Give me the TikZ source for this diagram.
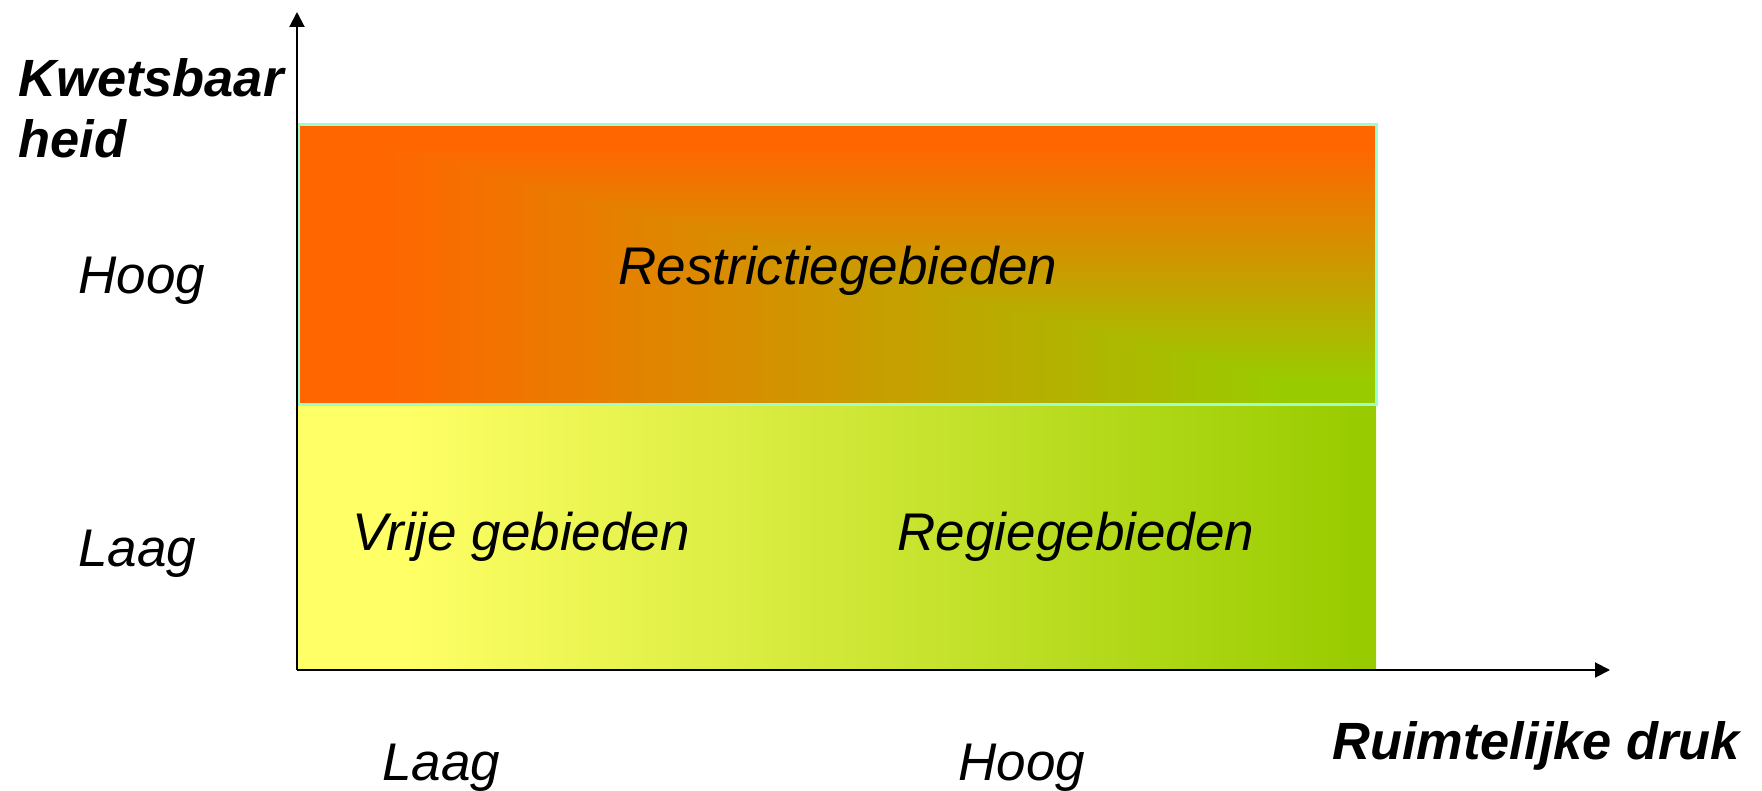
\documentclass[tikz,border=0pt]{standalone}
\usepackage{fontspec}
\setmainfont{Liberation Sans}
\usetikzlibrary{positioning,calc,arrows.meta}

\definecolor{hotorange}{HTML}{FF6600}
\definecolor{limegreen}{HTML}{99CC00}
\definecolor{paleyellow}{HTML}{FFFF66}
\definecolor{aqualine}{HTML}{99FFCC}

% gradients with a short flat part at both ends
\pgfdeclarehorizontalshading{riskh}{100bp}{color(0bp)=(hotorange); color(29bp)=(hotorange);
  color(71bp)=(limegreen); color(100bp)=(limegreen)}
\pgfdeclareverticalshading{riskv}{100bp}{color(0bp)=(limegreen); color(29bp)=(limegreen);
  color(71bp)=(hotorange); color(100bp)=(hotorange)}
\pgfdeclarehorizontalshading{freeh}{100bp}{color(0bp)=(paleyellow); color(30bp)=(paleyellow);
  color(74bp)=(limegreen); color(100bp)=(limegreen)}

\tikzset{
  lbl/.style={inner sep=0pt, font=\fontsize{26.5}{30.5}\selectfont\itshape},
  axislbl/.style={inner sep=0pt, font=\fontsize{26.2}{30.5}\selectfont\bfseries\itshape},
  axis/.style={line width=1pt, -{Triangle[length=7.5pt,width=7.5pt]}}
}

\begin{document}
\begin{tikzpicture}[x=0.5pt, y=-0.5pt]

  % geometry (image pixels, y downwards)
  \def\xl{297}   % y-axis
  \def\xr{1376}  % right edge of the fields
  \def\yt{125}   % top of upper field
  \def\ym{404}   % split between the fields
  \def\yb{670}   % x-axis

  \useasboundingbox (0,0) rectangle (1762,791);

  % upper field: gradient from the corner
  \shade[shading=riskh] (\xl,\yt) rectangle (\xr,\ym);
  \begin{scope}
    \clip (\xl,\yt) -- (\xr,\yt) -- (\xr,\ym) -- cycle;
    \shade[shading=riskv] (\xl,\yt) rectangle (\xr,\ym);
  \end{scope}
  % lower field: left to right
  \shade[shading=freeh] (\xl,\ym) rectangle (\xr,\yb);
  \draw[aqualine, line width=1.5pt] (\xl+1.5,\yt) rectangle (\xr,\ym);

  % axes
  \coordinate (origin) at (\xl,\yb);
  \coordinate (ytip) at (\xl,12);
  \coordinate (xtip) at (1610,\yb);
  \draw[axis] (origin) -- (ytip);
  \draw[axis] (origin) -- (xtip);

  % axis titles
  \node[axislbl, anchor=base west] (kwets) at (18,97) {Kwetsbaar};
  \node[axislbl, anchor=base west] (heid) at (18,158) {heid};
  \node[axislbl, anchor=base west] (druk) at (1332,759) {Ruimtelijke druk};

  % levels
  \node[lbl, anchor=base west] (yhoog) at (78,294) {Hoog};
  \node[lbl, anchor=base west] (ylaag) at (78,566) {Laag};
  \node[lbl, anchor=base west] (xlaag) at (382,780) {Laag};
  \node[lbl, anchor=base west] (xhoog) at (958,780) {Hoog};

  % fields
  \node[lbl, anchor=base] (restrictie) at (838,285) {Restrictiegebieden};
  \node[lbl, anchor=base] (vrij) at (521,550) {Vrije gebieden};
  \node[lbl, anchor=base] (regie) at (1076,550) {Regiegebieden};

\end{tikzpicture}
\end{document}
